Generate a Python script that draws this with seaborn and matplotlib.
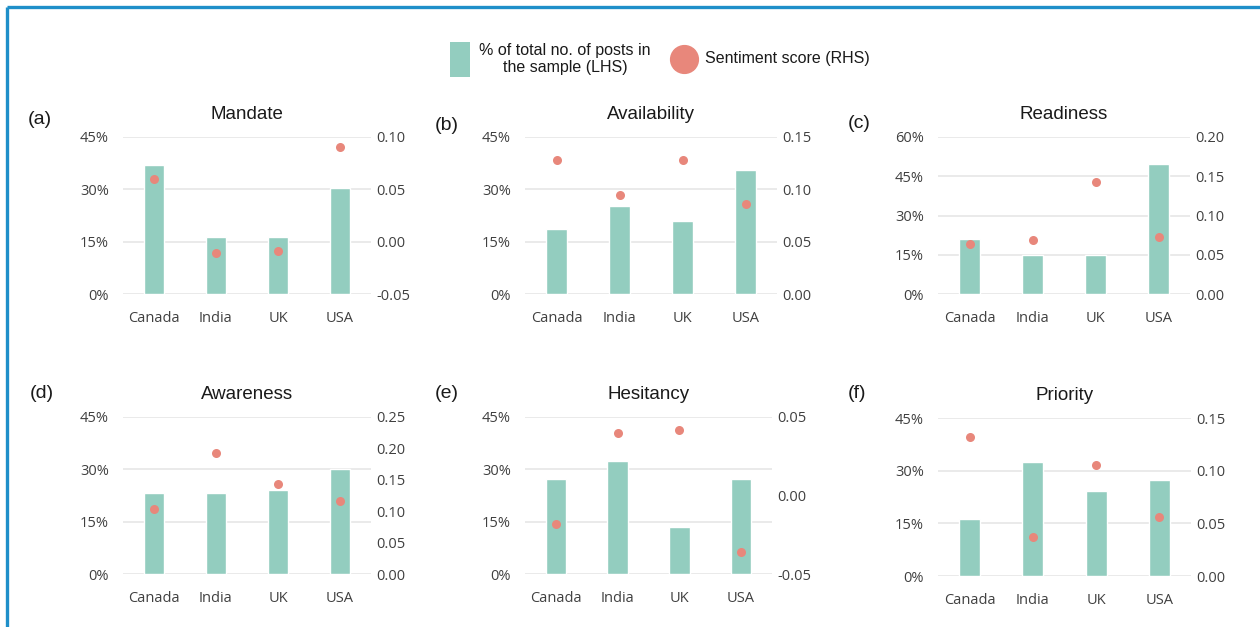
import matplotlib
matplotlib.use("Agg")
import matplotlib.pyplot as plt
import numpy as np
import pandas as pd
import seaborn as sns
from matplotlib.lines import Line2D
from matplotlib.patches import Rectangle
from matplotlib.ticker import PercentFormatter, FormatStrFormatter

# ---- data -------------------------------------------------------------
countries = ["Canada", "India", "UK", "USA"]

# share of posts in the sample (%), left axis
mandate_share = [36.9, 16.4, 16.4, 30.5]
availability_share = [18.6, 25.1, 21.0, 35.5]
readiness_share = [20.9, 14.9, 14.9, 49.6]
awareness_share = [23.3, 23.3, 24.2, 30.0]
hesitancy_share = [27.1, 32.4, 13.6, 27.1]
priority_share = [16.3, 32.5, 24.3, 27.2]

# mean sentiment score, right axis
mandate_sentiment = [0.060, -0.011, -0.009, 0.090]
availability_sentiment = [0.128, 0.095, 0.128, 0.086]
readiness_sentiment = [0.064, 0.069, 0.143, 0.073]
awareness_sentiment = [0.103, 0.192, 0.143, 0.116]
hesitancy_sentiment = [-0.018, 0.040, 0.042, -0.036]
priority_sentiment = [0.132, 0.037, 0.105, 0.056]

BAR = "#93CDBF"
DOT = "#E8877B"
GRID = "#E6E6E6"
TICK = "#404040"
FRAME = "#1F8FC9"
SANS = ["Liberation Sans", "DejaVu Sans"]

sns.set_theme(style="white")
plt.rcParams["font.family"] = ["Open Sans", "DejaVu Sans"]
plt.rcParams["axes.unicode_minus"] = False

W, H = 1260, 627
fig = plt.figure(figsize=(W / 100, H / 100), dpi=100)
fig.patch.set_facecolor("white")


def px_axes(x0, x1, y0, y1):
    return fig.add_axes([x0 / W, 1 - y1 / H, (x1 - x0) / W, (y1 - y0) / H])


panels = [
    ("(a)", "Mandate", mandate_share, mandate_sentiment, 45, (-0.05, 0.10), 0.05,
     (123, 371, 137, 294), (28, 119)),
    ("(b)", "Availability", availability_share, availability_sentiment, 45, (0.0, 0.15), 0.05,
     (525, 777, 137, 294), (435, 125)),
    ("(c)", "Readiness", readiness_share, readiness_sentiment, 60, (0.0, 0.20), 0.05,
     (938, 1190, 137, 294), (848, 123)),
    ("(d)", "Awareness", awareness_share, awareness_sentiment, 45, (0.0, 0.25), 0.05,
     (123, 371, 417, 574), (30, 394)),
    ("(e)", "Hesitancy", hesitancy_share, hesitancy_sentiment, 45, (-0.05, 0.05), 0.05,
     (525, 772, 417, 574), (435, 394)),
    ("(f)", "Priority", priority_share, priority_sentiment, 45, (0.0, 0.15), 0.05,
     (938, 1191, 418, 576), (848, 394)),
]

for letter, title, share, senti, ltop, (rlo, rhi), rstep, box, lab in panels:
    df = pd.DataFrame({"country": countries, "share": share, "sentiment": senti})
    ax = px_axes(*box)
    sns.barplot(data=df, x="country", y="share", color=BAR, saturation=1,
                width=0.33, ax=ax)
    ax.set_ylim(0, ltop)
    ax.set_yticks(np.arange(0, ltop + 1, 15))
    ax.yaxis.set_major_formatter(PercentFormatter(decimals=0))
    ax.grid(axis="y", color=GRID, lw=1.2)
    ax.grid(axis="x", visible=False)
    ax.set_axisbelow(True)
    ax.set_xlabel("")
    ax.set_ylabel("")
    ax.tick_params(axis="y", length=0, pad=10, labelsize=10.5, labelcolor=TICK)
    ax.tick_params(axis="x", length=0, pad=12, labelsize=10.5, labelcolor=TICK)
    for s in ax.spines.values():
        s.set_visible(False)
    ax.set_title(title, fontsize=13.5, family=SANS, color="#1A1A1A", pad=13)

    ax2 = ax.twinx()
    sns.stripplot(data=df, x="country", y="sentiment", color=DOT, size=6.5,
                  jitter=False, linewidth=0, ax=ax2, zorder=3)
    ax2.set_ylim(rlo, rhi)
    ax2.set_yticks(np.round(np.arange(rlo, rhi + rstep / 2, rstep), 2))
    ax2.yaxis.set_major_formatter(FormatStrFormatter("%.2f"))
    ax2.set_xlabel("")
    ax2.set_ylabel("")
    ax2.grid(False)
    ax2.tick_params(axis="y", length=0, pad=4, labelsize=10.5, labelcolor=TICK)
    for s in ax2.spines.values():
        s.set_visible(False)

    fig.text(lab[0] / W, 1 - lab[1] / H, letter, fontsize=14, family=SANS,
             color="#1A1A1A", ha="left", va="center")

# ---- shared legend ----------------------------------------------------
fig.add_artist(Rectangle((450 / W, 1 - 77 / H), 20 / W, 35 / H,
                         transform=fig.transFigure, facecolor=BAR, edgecolor="none"))
fig.text(565 / W, 1 - 59 / H, "% of total no. of posts in\nthe sample (LHS)",
         fontsize=11.5, family=SANS, color="#1A1A1A",
         ha="center", va="center", linespacing=1.2)
fig.add_artist(Line2D([684 / W], [1 - 59 / H], transform=fig.transFigure,
                      marker="o", markersize=20, color=DOT, linestyle="none"))
fig.text(705 / W, 1 - 59 / H, "Sentiment score (RHS)", fontsize=11.5,
         family=SANS, color="#1A1A1A", ha="left", va="center")

# ---- frame (top and left edges) ---------------------------------------
fig.add_artist(Line2D([7 / W, 1.0], [1 - 7 / H, 1 - 7 / H], transform=fig.transFigure,
                      color=FRAME, lw=2.4, solid_capstyle="butt"))
fig.add_artist(Line2D([7 / W, 7 / W], [0.0, 1 - 7 / H], transform=fig.transFigure,
                      color=FRAME, lw=2.4, solid_capstyle="butt"))

fig.savefig("out.png", dpi=100, facecolor="white")
